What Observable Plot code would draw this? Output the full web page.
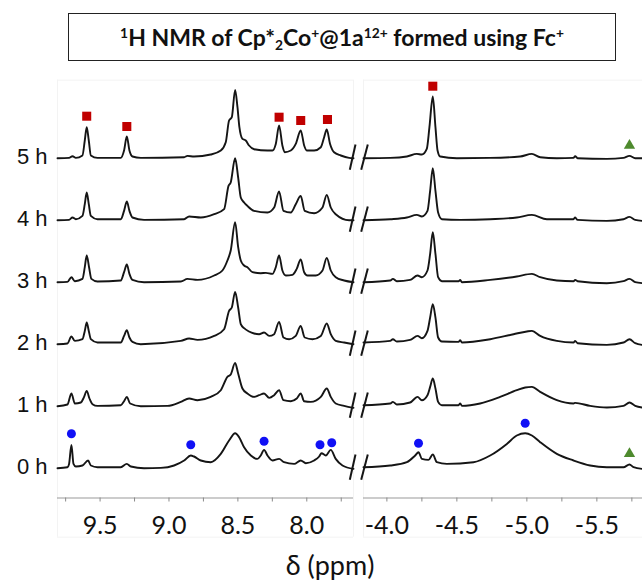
<!DOCTYPE html>
<html><head><meta charset="utf-8">
<script src="https://cdn.jsdelivr.net/npm/d3@7"></script>
<script src="https://cdn.jsdelivr.net/npm/@observablehq/plot@0.6"></script>
<style>
body{margin:0;background:#fff;}
#wrap{position:relative;width:642px;height:583px;overflow:hidden;background:#fff;}
#title{position:absolute;left:68px;top:13px;width:546px;height:46px;border:1.5px solid #222;display:flex;align-items:center;justify-content:center;font-family:Lato,"Open Sans",sans-serif;font-weight:bold;font-size:23px;color:#111;white-space:nowrap;}
#title sup{font-size:0.6em;vertical-align:0.6em;line-height:0;}
#title sub{font-size:0.6em;vertical-align:-0.3em;line-height:0;}
#xlabel{position:absolute;left:230px;top:549px;width:200px;text-align:center;font-family:Lato,"Open Sans",sans-serif;font-size:27px;line-height:32px;color:#111;}
.p{position:absolute;top:0;}
</style></head>
<body>
<div id="wrap">
  <div id="left" class="p" style="left:0px"></div>
  <div id="right" class="p" style="left:345px"></div>
  <div id="title"><span><sup>1</sup>H NMR of Cp*<sub>2</sub>Co<sup>+</sup>@1a<sup>12+</sup> formed using Fc<sup>+</sup></span></div>
  <div id="xlabel">δ (ppm)</div>
</div>
<script>
// ---------- data (ppm, intensity above baseline) ----------
const hourLabels = ["0 h", "1 h", "2 h", "3 h", "4 h", "5 h"];

const left5h = [[9.809,0],[9.725,0.3],[9.700,2],[9.676,0.3],[9.628,2.7],[9.611,17.7],[9.597,31],[9.582,17.7],[9.567,2.7],[9.519,0.3],[9.350,0.3],[9.326,7.7],[9.306,21.7],[9.287,7.7],[9.265,1.7],[9.205,0.3],[8.890,1],[8.866,2.3],[8.818,1.7],[8.697,3.7],[8.624,7.7],[8.588,16],[8.564,37.7],[8.544,41],[8.520,68.3],[8.503,51],[8.489,31],[8.467,19.3],[8.443,17.7],[8.419,12.7],[8.382,9],[8.285,7.7],[8.249,7.7],[8.225,14.3],[8.201,32.7],[8.177,12.7],[8.160,6],[8.116,7.7],[8.080,14.3],[8.044,27.7],[8.019,12.7],[8.000,7.7],[7.947,7.7],[7.898,11],[7.874,21],[7.855,28.7],[7.831,14.3],[7.802,6],[7.753,2.7],[7.693,0.3],[7.661,0]];
const left4h = [[9.809,0],[9.725,0.3],[9.700,2.7],[9.676,1],[9.628,4.3],[9.611,16],[9.597,27.7],[9.582,16],[9.567,4.3],[9.519,1],[9.350,1],[9.326,9.3],[9.306,18.7],[9.287,9.3],[9.265,2.7],[9.181,0.3],[8.890,1],[8.854,3.7],[8.769,2.7],[8.672,6],[8.600,11],[8.568,34.3],[8.552,37.7],[8.520,62],[8.498,42.7],[8.479,22.7],[8.455,17.7],[8.431,14.3],[8.382,9.3],[8.285,7.7],[8.237,12.7],[8.201,28.7],[8.169,9.3],[8.116,7.7],[8.080,16],[8.044,24.3],[8.015,9.3],[7.947,7],[7.886,12.7],[7.855,25.3],[7.826,12.7],[7.790,6],[7.693,0],[7.661,0]];
const left3h = [[9.809,0],[9.737,0.3],[9.708,5],[9.683,1],[9.628,3.3],[9.611,15],[9.597,26.7],[9.580,15],[9.563,3.3],[9.519,0.7],[9.350,1.7],[9.326,10],[9.306,17.7],[9.287,8.3],[9.265,2.3],[9.181,0],[8.914,0.7],[8.866,3.3],[8.793,2.3],[8.672,6.7],[8.612,11.7],[8.576,21.7],[8.552,31.7],[8.520,60],[8.498,35],[8.479,21.7],[8.455,16.7],[8.431,15],[8.394,10],[8.334,9],[8.297,9.3],[8.249,8.3],[8.225,15],[8.201,26.7],[8.177,11.7],[8.152,6.7],[8.104,7.3],[8.073,13.3],[8.044,22.7],[8.019,10],[7.995,6.7],[7.935,6.7],[7.886,11.7],[7.855,24.3],[7.826,11.7],[7.790,5],[7.729,1.7],[7.661,0]];
const left2h = [[9.809,0],[9.737,0.7],[9.708,7.7],[9.683,3.3],[9.628,5],[9.611,13.3],[9.597,21.7],[9.582,13.3],[9.567,5],[9.519,1.7],[9.350,1.7],[9.326,8.3],[9.306,14],[9.287,6.7],[9.265,2.3],[9.205,0],[8.914,3.3],[8.854,5.7],[8.793,4.3],[8.672,8.3],[8.600,15],[8.564,33.3],[8.544,36.7],[8.520,52.3],[8.498,36.7],[8.479,20],[8.455,16],[8.419,12.7],[8.382,10.7],[8.346,10],[8.310,11.7],[8.273,8.3],[8.237,10],[8.201,22.3],[8.169,6.7],[8.128,5],[8.080,8.3],[8.044,18.3],[8.015,6.7],[7.959,5],[7.898,8.3],[7.855,20.7],[7.826,10],[7.790,3.3],[7.729,1.7],[7.661,0]];
const left1h = [[9.809,0],[9.737,1.7],[9.708,12.7],[9.683,2.7],[9.640,3.7],[9.616,9.3],[9.597,15.3],[9.577,7.7],[9.555,2],[9.519,0.3],[9.350,1],[9.326,5],[9.306,9.3],[9.282,2.7],[9.205,0],[9.011,0.3],[8.914,4.3],[8.854,7.7],[8.793,6],[8.697,9.3],[8.624,16],[8.576,29.3],[8.552,31.7],[8.520,43.3],[8.498,32.7],[8.467,17.7],[8.431,12.7],[8.382,9.3],[8.346,11],[8.310,12.7],[8.273,8.3],[8.237,11],[8.201,16],[8.169,6],[8.116,5],[8.073,7.7],[8.044,12.7],[8.019,5],[7.971,4.3],[7.898,9.3],[7.855,17.7],[7.826,9.3],[7.790,2.7],[7.729,0.3],[7.661,-1.7]];
const left0h = [[9.809,0],[9.737,1],[9.725,4.3],[9.708,23.3],[9.693,4.3],[9.676,1.7],[9.628,2.7],[9.587,7.7],[9.567,2.7],[9.519,1],[9.350,1],[9.306,4.3],[9.277,1.7],[9.181,0],[9.059,0.3],[8.963,2.7],[8.890,7.7],[8.842,12.7],[8.818,11.7],[8.769,7.7],[8.697,6],[8.624,14.3],[8.564,27.7],[8.520,35],[8.491,31],[8.455,21],[8.406,12.7],[8.358,9.3],[8.334,12.7],[8.310,18.3],[8.285,12.7],[8.249,7.7],[8.201,9.3],[8.165,6],[8.092,4.3],[8.044,7.7],[8.007,5],[7.947,7.7],[7.910,11.7],[7.893,15],[7.862,12.7],[7.826,18.3],[7.790,9.3],[7.741,2.7],[7.661,-0.7]];

const right5h = [[-3.833,0],[-4.024,0.3],[-4.143,1.7],[-4.214,4.3],[-4.250,3.7],[-4.285,9.3],[-4.304,31],[-4.328,61.7],[-4.347,31],[-4.362,7.7],[-4.381,1.7],[-4.500,0],[-4.738,0.3],[-4.952,1.7],[-5.036,4.3],[-5.095,1],[-5.214,0],[-5.333,0.3],[-5.345,2],[-5.362,0],[-5.571,-0.7],[-5.690,0.3],[-5.733,2.3],[-5.774,0],[-5.826,0]];
const right4h = [[-3.833,0],[-4.024,1],[-4.143,2.7],[-4.214,5.3],[-4.250,3.7],[-4.290,9.3],[-4.309,29.3],[-4.328,52],[-4.347,29.3],[-4.366,7.7],[-4.393,1],[-4.524,0.3],[-4.738,1],[-4.928,2.7],[-5.036,5.3],[-5.143,1],[-5.333,1],[-5.345,2.7],[-5.362,0.3],[-5.571,-0.7],[-5.690,1],[-5.733,3.3],[-5.774,0.3],[-5.826,-0.7]];
const right3h = [[-3.833,0],[-4.024,1.7],[-4.043,3.3],[-4.071,1],[-4.166,2.3],[-4.219,6.7],[-4.250,5],[-4.290,11.7],[-4.309,28.3],[-4.328,50],[-4.347,28.3],[-4.366,5],[-4.393,1],[-4.512,1],[-4.524,2.3],[-4.536,0],[-4.738,2.3],[-4.928,5.7],[-5.036,8.3],[-5.095,5],[-5.214,1.7],[-5.333,1],[-5.345,2.3],[-5.362,1],[-5.571,-1],[-5.690,1],[-5.733,3.3],[-5.774,0],[-5.826,-1]];
const right2h = [[-3.833,1.7],[-4.024,3.3],[-4.043,5],[-4.071,2.7],[-4.166,4.3],[-4.219,8.3],[-4.250,6],[-4.290,13.3],[-4.309,26.7],[-4.328,40],[-4.347,26.7],[-4.366,6.7],[-4.393,2.7],[-4.512,2.3],[-4.524,4],[-4.536,1.7],[-4.738,5],[-4.905,10],[-5.000,12.7],[-5.036,13.3],[-5.095,8.3],[-5.214,3.3],[-5.333,1.7],[-5.345,3.3],[-5.362,1],[-5.571,-0.7],[-5.690,1.7],[-5.733,5],[-5.774,1],[-5.826,-0.7]];
const right1h = [[-3.833,1],[-4.024,2.7],[-4.043,4.3],[-4.071,1.7],[-4.166,3.7],[-4.219,9.3],[-4.250,6],[-4.290,11],[-4.309,19.3],[-4.328,27.7],[-4.347,17.7],[-4.366,4.3],[-4.393,1],[-4.512,1],[-4.524,2.7],[-4.536,0.3],[-4.666,2.7],[-4.809,9.3],[-4.928,16],[-4.988,18.7],[-5.036,19.3],[-5.095,14.3],[-5.214,6],[-5.333,2.7],[-5.345,3.3],[-5.452,0.3],[-5.571,-1.3],[-5.690,0.3],[-5.733,3.7],[-5.774,0.3],[-5.826,-1.3]];
const right0h = [[-3.833,1],[-4.024,2.7],[-4.143,6],[-4.202,12.7],[-4.226,16],[-4.250,9.3],[-4.297,8.3],[-4.328,13.7],[-4.357,6],[-4.428,4.3],[-4.619,6],[-4.738,12.7],[-4.857,24.3],[-4.928,32.7],[-4.988,35],[-5.036,32.7],[-5.095,26],[-5.214,14.3],[-5.333,7.7],[-5.452,2.7],[-5.571,1],[-5.690,1],[-5.733,3.7],[-5.762,1],[-5.826,-0.7]];

// markers: ppm, spectrum (hour), height above that baseline
const squarePpm = [9.597, 9.306, 8.201, 8.044, 7.850, -4.328];
const squareHour = [5, 5, 5, 5, 5, 5];
const squareHeight = [42, 31.7, 41, 37.7, 38.7, 72];
const circlePpm = [9.708, 8.842, 8.310, 7.904, 7.819, -4.226, -4.988];
const circleHour = [0, 0, 0, 0, 0, 0, 0];
const circleHeight = [34.4, 23.4, 27, 23.4, 25.4, 25, 45];
const trianglePpm = [-5.733, -5.733];
const triangleHour = [5, 0];
const triangleHeight = [12.7, 14.4];

const leftTicks = [9.75, 9.5, 9.25, 9.0, 8.75, 8.5, 8.25, 8.0, 7.75];
const rightTicks = [-4.0, -4.25, -4.5, -4.75, -5.0, -5.25, -5.5, -5.75];

// ---------- layout ----------
const STEP = 62;
const H = 583, MB = 85.5;
const yDomain = [-29.8, 467.7];
const leftDomain = [9.809, 7.661];
const rightDomain = [-3.833, -5.826];
const LINE = "#151515";
const FRAME = "#f3f3f3";

const leftSpecs = [left0h, left1h, left2h, left3h, left4h, left5h];
const rightSpecs = [right0h, right1h, right2h, right3h, right4h, right5h];
const toRows = specs => specs.flatMap((pts, h) => pts.map(([p, v]) => ({x: p, y: h * STEP + v, hour: h})));
const markerRows = (ppm, hour, height) => ppm.map((p, i) => ({x: p, y: hour[i] * STEP + height[i]}));

const squares = markerRows(squarePpm, squareHour, squareHeight);
const circles = markerRows(circlePpm, circleHour, circleHeight);
const triangles = markerRows(trianglePpm, triangleHour, triangleHeight);
const isLeft = d => d.x > 0;
const isRight = d => d.x < 0;

const fmt = d => Math.abs(d * 2 - Math.round(d * 2)) < 1e-6 ? d.toFixed(1) : "";

function common(domain, ticks, rows, sideFilter) {
  return [
    Plot.ruleY([yDomain[0]], {stroke: "#9a9a9a", strokeWidth: 1.2}),
    Plot.axisX({ticks, tickFormat: fmt, label: null, tickSize: 4, tickPadding: 14, stroke: "#8a8a8a", fill: "#111", fontSize: 25, fontFamily: "Lato, 'Open Sans', sans-serif"}),
    Plot.line(rows, {x: "x", y: "y", z: "hour", stroke: LINE, strokeWidth: 1.9, curve: "monotone-x"}),
    Plot.dot(squares.filter(sideFilter), {x: "x", y: "y", symbol: "square", r: 5.1, fill: "#c00000", stroke: "none"}),
    Plot.dot(circles.filter(sideFilter), {x: "x", y: "y", symbol: "circle", r: 4.5, fill: "#1010f5", stroke: "none"}),
    Plot.dot(triangles.filter(sideFilter), {x: "x", y: "y", symbol: "triangle", r: 4.2, fill: "#4e8a2e", stroke: "none"})
  ];
}

// left panel
const leftPlot = Plot.plot({
  width: 353, height: H, marginLeft: 57, marginRight: 0, marginTop: 0, marginBottom: MB,
  style: {background: "transparent", overflow: "visible"},
  x: {domain: leftDomain, label: null},
  y: {domain: yDomain, axis: null},
  marks: [
    Plot.ruleX(leftDomain, {y1: -69, y2: 388, stroke: FRAME}),
    Plot.ruleY([-69, 388], {x1: leftDomain[0], x2: leftDomain[1], stroke: FRAME}),
    ...common(leftDomain, leftTicks, toRows(leftSpecs), isLeft),
    Plot.text(hourLabels, {x: leftDomain[0], y: (d, i) => i * STEP, text: d => d, textAnchor: "end", dx: -10, dy: -1, fontSize: 22, fontFamily: "'Liberation Sans', Arial, sans-serif", fill: "#111"})
  ]
});
document.getElementById("left").appendChild(leftPlot);

// right panel (with axis-break marks at its left edge)
const pxPerPpm = 140;
const pxToPpm = dx => rightDomain[0] - dx / pxPerPpm; // dx: pixel offset from panel start
const breaks = d3.range(6).flatMap(h => [
  {x1: pxToPpm(-8), y1: h * STEP + 13.7, x2: pxToPpm(-13.7), y2: h * STEP - 11.6},
  {x1: pxToPpm(4.3), y1: h * STEP + 13.7, x2: pxToPpm(-2.3), y2: h * STEP - 11.6}
]);
const rightPlot = Plot.plot({
  width: 297, height: H, marginLeft: 18, marginRight: 0, marginTop: 0, marginBottom: MB,
  style: {background: "transparent", overflow: "visible"},
  x: {domain: rightDomain, label: null},
  y: {domain: yDomain, axis: null},
  marks: [
    Plot.ruleX([rightDomain[0]], {y1: -69, y2: 388, stroke: FRAME}),
    Plot.ruleY([-69, 388], {x1: rightDomain[0], x2: rightDomain[1], stroke: FRAME}),
    ...common(rightDomain, rightTicks, toRows(rightSpecs), isRight),
    Plot.link(breaks, {x1: "x1", y1: "y1", x2: "x2", y2: "y2", stroke: LINE, strokeWidth: 2})
  ]
});
document.getElementById("right").appendChild(rightPlot);
</script>
</body></html>
